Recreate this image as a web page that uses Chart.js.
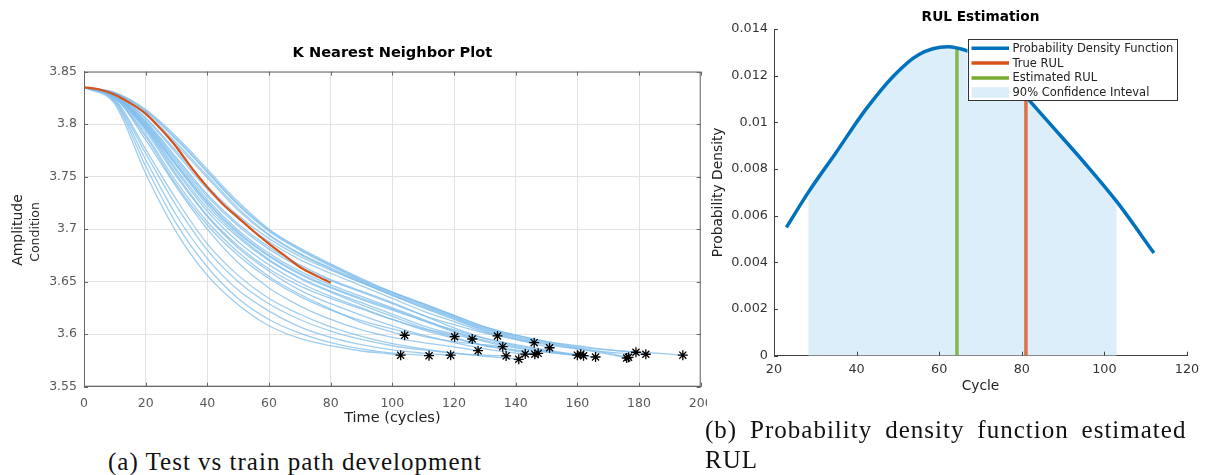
<!DOCTYPE html>
<html lang="en">
<head>
<meta charset="UTF-8">
<title>KNN plot and RUL estimation</title>
<script src="https://cdn.jsdelivr.net/npm/chart.js"></script>
<style>
    body { margin: 0; width: 1208px; height: 475px; background: #fff; position: relative; overflow: hidden; }
    .panel { position: absolute; top: 0; }
    .cap { position: absolute; font-family: "Liberation Serif", serif; font-size: 25px; line-height: 30px;
           letter-spacing: 1px; color: #111; white-space: nowrap; }
</style>
</head>
<body>
<div class="panel" style="left:0"><canvas id="knn" width="707" height="430"></canvas></div>
<div class="panel" style="left:707px"><canvas id="rul" width="501" height="400"></canvas></div>
<div class="cap" style="left:108px; top:447px">(a) Test vs train path development</div>
<div class="cap" style="left:705px; top:415px"><span style="word-spacing:5.7px">(b) Probability density function estimated</span><br>RUL</div>

<script>
// ---- left plot: training paths (every 10 cycles), their end points, and the test path
const gridX = [0, 10, 20, 30, 40, 50, 60, 70, 80, 90, 100, 110, 120, 130, 140, 150, 160, 170, 180, 190];
const trainY = [
    [3.835, 3.825, 3.790, 3.745, 3.707, 3.678, 3.655, 3.638, 3.624, 3.611, 3.602],
    [3.835, 3.819, 3.753, 3.697, 3.656, 3.628, 3.608, 3.596, 3.589, 3.584, 3.581],
    [3.835, 3.821, 3.760, 3.705, 3.664, 3.634, 3.614, 3.601, 3.592, 3.586, 3.582, 3.580],
    [3.835, 3.822, 3.766, 3.713, 3.672, 3.642, 3.622, 3.607, 3.597, 3.590, 3.585, 3.582],
    [3.835, 3.826, 3.795, 3.752, 3.713, 3.684, 3.662, 3.646, 3.634, 3.624, 3.614, 3.605, 3.598],
    [3.835, 3.827, 3.797, 3.757, 3.720, 3.692, 3.670, 3.654, 3.641, 3.630, 3.619, 3.608, 3.600],
    [3.835, 3.826, 3.785, 3.740, 3.700, 3.668, 3.644, 3.627, 3.614, 3.604, 3.597, 3.592, 3.588],
    [3.835, 3.828, 3.802, 3.766, 3.731, 3.703, 3.681, 3.664, 3.651, 3.640, 3.629, 3.618, 3.609, 3.601],
    [3.835, 3.825, 3.788, 3.742, 3.704, 3.675, 3.653, 3.636, 3.623, 3.613, 3.605, 3.598, 3.593, 3.590],
    [3.835, 3.823, 3.772, 3.722, 3.680, 3.650, 3.629, 3.614, 3.603, 3.595, 3.589, 3.585, 3.582, 3.580],
    [3.835, 3.824, 3.776, 3.728, 3.686, 3.656, 3.634, 3.619, 3.607, 3.598, 3.591, 3.586, 3.582, 3.579, 3.5765],
    [3.835, 3.826, 3.793, 3.750, 3.712, 3.682, 3.660, 3.642, 3.629, 3.618, 3.608, 3.599, 3.592, 3.586, 3.582],
    [3.835, 3.829, 3.805, 3.772, 3.738, 3.710, 3.688, 3.671, 3.658, 3.646, 3.634, 3.622, 3.612, 3.602, 3.595],
    [3.835, 3.827, 3.798, 3.760, 3.723, 3.694, 3.671, 3.653, 3.640, 3.628, 3.617, 3.606, 3.597, 3.589, 3.584],
    [3.835, 3.826, 3.796, 3.755, 3.717, 3.688, 3.666, 3.649, 3.636, 3.625, 3.614, 3.604, 3.596, 3.589, 3.585],
    [3.835, 3.829, 3.806, 3.774, 3.741, 3.713, 3.691, 3.674, 3.661, 3.649, 3.637, 3.625, 3.614, 3.603, 3.595, 3.588],
    [3.835, 3.828, 3.801, 3.764, 3.728, 3.699, 3.677, 3.660, 3.647, 3.636, 3.625, 3.614, 3.603, 3.594, 3.588, 3.583],
    [3.835, 3.827, 3.799, 3.761, 3.725, 3.696, 3.674, 3.657, 3.644, 3.633, 3.623, 3.613, 3.604, 3.596, 3.590, 3.585, 3.581],
    [3.835, 3.828, 3.803, 3.768, 3.733, 3.705, 3.683, 3.666, 3.652, 3.641, 3.630, 3.618, 3.606, 3.596, 3.589, 3.584, 3.580],
    [3.835, 3.827, 3.800, 3.762, 3.726, 3.697, 3.675, 3.658, 3.645, 3.634, 3.624, 3.613, 3.602, 3.593, 3.587, 3.583, 3.5795],
    [3.835, 3.829, 3.810, 3.782, 3.751, 3.720, 3.695, 3.677, 3.663, 3.650, 3.638, 3.627, 3.616, 3.605, 3.597, 3.591, 3.586, 3.581],
    [3.835, 3.829, 3.812, 3.785, 3.754, 3.723, 3.698, 3.680, 3.665, 3.651, 3.639, 3.628, 3.617, 3.606, 3.598, 3.592, 3.587, 3.582],
    [3.835, 3.830, 3.814, 3.788, 3.757, 3.726, 3.700, 3.682, 3.667, 3.653, 3.640, 3.629, 3.618, 3.607, 3.599, 3.593, 3.589, 3.585],
    [3.835, 3.829, 3.809, 3.780, 3.749, 3.718, 3.694, 3.676, 3.662, 3.649, 3.637, 3.626, 3.615, 3.604, 3.596, 3.590, 3.586, 3.583, 3.581],
    [3.835, 3.830, 3.813, 3.786, 3.755, 3.724, 3.699, 3.681, 3.666, 3.652, 3.640, 3.629, 3.618, 3.607, 3.599, 3.593, 3.588, 3.585, 3.583, 3.581]
];
const endX = [104.0, 102.7, 111.9, 118.9, 120.2, 125.9, 127.8, 134.1, 135.8, 136.9, 141.0, 143.1, 146.0,
              146.2, 147.3, 151.0, 160.0, 161.1, 162.0, 165.9, 176.0, 176.6, 179.0, 182.2, 194.2];
const endY = [3.599, 3.580, 3.5795, 3.580, 3.5976, 3.5954, 3.5843, 3.5983, 3.5881, 3.5793, 3.5761, 3.5811, 3.5919,
              3.5809, 3.5818, 3.5871, 3.580, 3.5809, 3.5795, 3.5783, 3.5773, 3.578, 3.5828, 3.5809, 3.580];
const testX = [0, 5, 10, 15, 20, 25, 30, 35, 40, 45, 50, 55, 60, 65, 70, 75, 80];
const testY = [3.835, 3.833, 3.828, 3.820, 3.810, 3.795, 3.778, 3.758, 3.740, 3.724, 3.711, 3.698, 3.686, 3.675, 3.664, 3.656, 3.649];

// ---- right plot: density of the estimated RUL
const pdfX = [23, 28.3, 35, 42, 49, 55, 62, 67, 72, 77, 81, 87, 95, 103, 112];
const pdfY = [0.0055, 0.0070, 0.0087, 0.0105, 0.0120, 0.0129, 0.01324, 0.01305, 0.0126, 0.0119, 0.0111, 0.0099, 0.0083, 0.0066, 0.0044];
const ciLow = 28.3, ciHigh = 103;
const trueRul = 81, trueRulTop = 0.0110;
const estRul = 64.3, estRulTop = 0.01316;
const legendLabels = ['Probability Density Function', 'True RUL', 'Estimated RUL', '90% Confidence Inteval'];

const FONT = 'DejaVu Sans';
const blueTrain = 'rgba(125, 188, 235, 0.75)';

// inward tick marks (and optionally the top/right box) like the original figures
function tickPlugin(box) {
    return {
        id: 'ticks' + (box ? 'Box' : ''),
        afterDraw(chart) {
            const { ctx, chartArea: a, scales } = chart;
            ctx.save();
            ctx.strokeStyle = box ? '#666' : '#404040';
            ctx.lineWidth = 1;
            if (box) ctx.strokeRect(a.left + 0.5, a.top + 0.5, a.right - a.left - 1, a.bottom - a.top - 1);
            ctx.beginPath();
            scales.x.ticks.forEach(t => {
                const px = Math.round(scales.x.getPixelForValue(t.value)) + 0.5;
                ctx.moveTo(px, a.bottom); ctx.lineTo(px, a.bottom - 4);
                if (box) { ctx.moveTo(px, a.top); ctx.lineTo(px, a.top + 4); }
            });
            scales.y.ticks.forEach(t => {
                const py = Math.round(scales.y.getPixelForValue(t.value)) + 0.5;
                ctx.moveTo(a.left, py); ctx.lineTo(a.left + 4, py);
                if (box) { ctx.moveTo(a.right, py); ctx.lineTo(a.right - 4, py); }
            });
            ctx.stroke();
            ctx.restore();
        }
    };
}

// title centred over the plot area (matlab style), not over the canvas
function titlePlugin(text, size, y) {
    return {
        id: 'plotTitle',
        afterDraw(chart) {
            const { ctx, chartArea: a } = chart;
            ctx.save();
            ctx.fillStyle = '#000';
            ctx.font = 'bold ' + size + 'px "' + FONT + '"';
            ctx.textAlign = 'center';
            ctx.textBaseline = 'middle';
            ctx.fillText(text, (a.left + a.right) / 2, y);
            ctx.restore();
        }
    };
}

// ---------------- left chart ----------------
const knnSets = [];
knnSets.push({
    label: 'ends',
    data: endX.map((x, i) => ({ x: x, y: endY[i] })),
    showLine: false, pointStyle: 'star', pointRadius: 5, borderColor: '#000', borderWidth: 1.3,
    backgroundColor: '#000'
});
knnSets.push({
    label: 'test',
    data: testX.map((x, i) => ({ x: x, y: testY[i] })),
    borderColor: '#D95319', borderWidth: 2.2, pointRadius: 0, cubicInterpolationMode: 'monotone'
});
trainY.forEach((vals, i) => {
    const pts = vals.map((v, k) => ({ x: gridX[k], y: v }));
    pts.push({ x: endX[i], y: endY[i] });
    knnSets.push({
        label: 'train ' + (i + 1), data: pts,
        borderColor: blueTrain, borderWidth: 1.3, pointRadius: 0, cubicInterpolationMode: 'monotone'
    });
});

const yTitlePlugin = {
    id: 'yTitle',
    afterDraw(chart) {
        const ctx = chart.ctx;
        const lines = [['Amplitude', 14, 18, 230], ['Condition', 12.5, 36, 232]];
        lines.forEach(([txt, size, x, y]) => {
            ctx.save();
            ctx.fillStyle = '#222';
            ctx.textAlign = 'center';
            ctx.textBaseline = 'middle';
            ctx.translate(x, y);
            ctx.rotate(-Math.PI / 2);
            ctx.font = size + 'px "' + FONT + '"';
            ctx.fillText(txt, 0, 0);
            ctx.restore();
        });
    }
};

new Chart(document.getElementById('knn'), {
    type: 'line',
    data: { datasets: knnSets },
    options: {
        responsive: false,
        animation: false,
        layout: { padding: { left: 0, right: 5.5, top: 71.6, bottom: 0 } },
        plugins: {
            legend: { display: false },
            tooltip: { enabled: false },
            title: { display: false }
        },
        scales: {
            x: {
                type: 'linear', min: 0, max: 200,
                ticks: { stepSize: 20, color: '#5a5a5a', padding: 10, font: { family: FONT, size: 12.5 }, maxRotation: 0 },
                grid: { color: '#e3e3e3', drawTicks: false },
                border: { color: '#666' },
                title: { display: true, text: 'Time (cycles)', color: '#222', font: { family: FONT, size: 14.5 }, padding: { top: 0, bottom: 3 } },
                afterFit: s => { s.height = 43.3; s.paddingLeft = 0; s.paddingRight = 0; }
            },
            y: {
                type: 'linear', min: 3.55, max: 3.85,
                ticks: { stepSize: 0.05, color: '#5a5a5a', padding: 7, font: { family: FONT, size: 12.5 },
                         callback: v => String(+v.toFixed(2)) },
                grid: { color: '#e3e3e3', drawTicks: false },
                border: { color: '#666' },
                afterFit: s => { s.width = 84; s.paddingTop = 0; s.paddingBottom = 0; }
            }
        }
    },
    plugins: [tickPlugin(true), yTitlePlugin, titlePlugin('K Nearest Neighbor Plot', 14.6, 53)]
});

// ---------------- right chart ----------------
const legendPlugin = {
    id: 'rulLegend',
    afterDraw(chart) {
        const { ctx, chartArea: a } = chart;
        const w = 209, h = 61;
        const x0 = a.right - 10.5 - w, y0 = a.top + 10.3;
        const colors = ['#0072BD', '#D95319', '#77AC30', '#dbeefa'];
        ctx.save();
        ctx.fillStyle = '#fff';
        ctx.fillRect(x0, y0, w, h);
        ctx.strokeStyle = '#333';
        ctx.lineWidth = 1;
        ctx.strokeRect(Math.round(x0) + 0.5, Math.round(y0) + 0.5, w, h);
        ctx.font = '11.5px "' + FONT + '"';
        ctx.textBaseline = 'middle';
        legendLabels.forEach((lab, i) => {
            const yy = y0 + 9 + i * 14.8;
            if (i < 3) {
                ctx.strokeStyle = colors[i];
                ctx.lineWidth = 3.5;
                ctx.beginPath();
                ctx.moveTo(x0 + 4, yy); ctx.lineTo(x0 + 41.5, yy);
                ctx.stroke();
            } else {
                ctx.fillStyle = colors[i];
                ctx.fillRect(x0 + 4, yy - 5.5, 37.5, 10.5);
            }
            ctx.fillStyle = '#222';
            ctx.fillText(lab, x0 + 45, yy + 0.5);
        });
        ctx.restore();
    }
};

const pdfPts = pdfX.map((x, i) => ({ x: x, y: pdfY[i] }));
new Chart(document.getElementById('rul'), {
    type: 'line',
    data: {
        datasets: [
            { label: legendLabels[0], data: pdfPts, borderColor: '#0072BD', borderWidth: 3.5,
              pointRadius: 0, cubicInterpolationMode: 'monotone' },
            { label: legendLabels[1], data: [{ x: trueRul, y: 0 }, { x: trueRul, y: trueRulTop }],
              borderColor: 'rgba(217, 83, 25, 0.8)', borderWidth: 3.5, pointRadius: 0 },
            { label: legendLabels[2], data: [{ x: estRul, y: 0 }, { x: estRul, y: estRulTop }],
              borderColor: 'rgba(119, 172, 48, 0.85)', borderWidth: 3.5, pointRadius: 0 },
            { label: legendLabels[3], data: pdfPts.filter(p => p.x >= ciLow && p.x <= ciHigh),
              borderWidth: 0, borderColor: 'rgba(0,0,0,0)', backgroundColor: '#dbeefa', fill: 'origin',
              pointRadius: 0, cubicInterpolationMode: 'monotone' }
        ]
    },
    options: {
        responsive: false,
        animation: false,
        layout: { padding: { left: 0, right: 21, top: 29, bottom: 0 } },
        plugins: {
            legend: { display: false },
            tooltip: { enabled: false },
            title: { display: false }
        },
        scales: {
            x: {
                type: 'linear', min: 20, max: 120,
                ticks: { stepSize: 20, color: '#333', padding: 6, font: { family: FONT, size: 12.8 }, maxRotation: 0 },
                grid: { display: false, drawTicks: false },
                border: { color: '#404040' },
                title: { display: true, text: 'Cycle', color: '#222', font: { family: FONT, size: 13.8 }, padding: { top: 0, bottom: 5 } },
                afterFit: s => { s.height = 44.3; s.paddingLeft = 0; s.paddingRight = 0; }
            },
            y: {
                type: 'linear', min: 0, max: 0.014,
                ticks: { stepSize: 0.002, color: '#333', padding: 6, font: { family: FONT, size: 12.8 },
                         callback: v => String(+v.toFixed(3)) },
                grid: { display: false, drawTicks: false },
                border: { color: '#404040' },
                title: { display: true, text: 'Probability Density', color: '#222', font: { family: FONT, size: 13.8 }, padding: { top: 3, bottom: 0 } },
                afterFit: s => { s.width = 67; s.paddingTop = 0; s.paddingBottom = 0; }
            }
        }
    },
    plugins: [tickPlugin(false), legendPlugin, titlePlugin('RUL Estimation', 13.7, 17)]
});
</script>
</body>
</html>
